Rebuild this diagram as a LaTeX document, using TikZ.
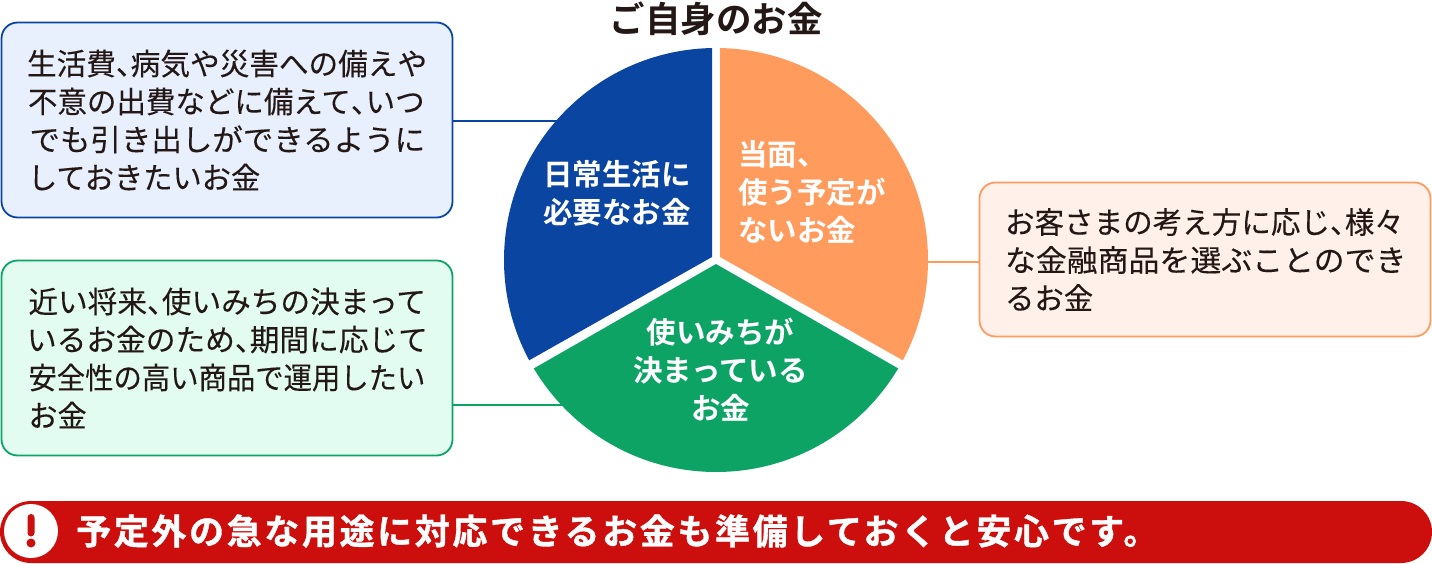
\documentclass[tikz,border=0pt]{standalone}
\usepackage{graphicx}
\usepackage{fontspec}
\setmainfont{Noto Sans CJK JP}
\newfontfamily\jpreg[FakeBold=0.12]{Noto Sans CJK JP}
\newfontfamily\jphalf[RawFeature={+halt},FakeBold=0.12]{Noto Sans CJK JP}
\newfontfamily\jpmed{Noto Sans CJK JP Bold}
\newfontfamily\jpbold[LetterSpace=7.5,FakeBold=1.0]{Noto Sans CJK JP Bold}
\newcommand{\halften}{{\jphalf 、}}
\newcommand{\hs}[2]{\scalebox{#1}[1]{#2}}
\definecolor{inkc}{HTML}{231815}
\definecolor{blueC}{HTML}{0B45A2}
\definecolor{blueL}{HTML}{E8F0FE}
\definecolor{greenC}{HTML}{0CA365}
\definecolor{greenL}{HTML}{E2FCF2}
\definecolor{orangeC}{HTML}{FF9B5C}
\definecolor{orangeL}{HTML}{FFF1E9}
\definecolor{redC}{HTML}{CC0F0D}
\tikzset{
  x=1pt,y=-1pt,
  infobox/.style={rounded corners=16pt,line width=1.8pt,minimum width=451pt,
    inner xsep=0pt,inner ysep=0pt,text=inkc,align=left,text width=400pt,
    font=\jpreg\fontsize{30}{38}\selectfont},
  link/.style={line width=1.8pt},
  pielabel/.style={text=white,align=center,inner sep=0pt,
    font=\jpmed\fontsize{29.5}{38}\selectfont},
}
\begin{document}
\begin{tikzpicture}
\useasboundingbox (0,0) rectangle (1432,564);
% info boxes
\node[infobox,draw=blueC,fill=blueL,minimum height=195pt] (bluebox) at (227,120)
  {\hs{.988}{生活費\halften 病気や災害への備えや}\\
   \hspace*{1pt}\hs{.983}{不意の出費などに備えて\halften いつ}\\
   \hspace*{2.5pt}\hs{1.016}{でも引き出しができるように}\\
   \hspace*{1pt}\hs{.975}{しておきたいお金}};
\node[infobox,draw=greenC,fill=greenL,minimum height=195pt] (greenbox) at (227,358)
  {\hspace*{1.5pt}\hs{.988}{近い将来\halften 使いみちの決まって}\\
   \hs{.99}{いるお金のため\halften 期間に応じて}\\
   \hspace*{1.5pt}\hs{.945}{安全性の高い商品で運用したい}\\
   \hspace*{1.5pt}\hs{.97}{お金}};
\node[infobox,draw=orangeC,fill=orangeL,minimum height=154pt] (orangebox) at (1205,259.5)
  {\hs{.985}{お客さまの考え方に応じ\halften 様々}\\
   \hs{1.03}{な金融商品を選ぶことのでき}\\
   \hs{.98}{るお金}};
% connectors
\coordinate (blueend) at (570,121);
\coordinate (greenend) at (570,405);
\coordinate (orangeend) at (900,262);
\draw[link,draw=blueC] (bluebox.east |- blueend) -- (blueend);
\draw[link,draw=greenC] (greenbox.east |- greenend) -- (greenend);
\draw[link,draw=orangeC] (orangebox.west |- orangeend) -- (orangeend);
% pie
\begin{scope}
  \clip (716,260) circle[radius=212];
  \fill[blueC] (712,0) -- (712,257) -- (412,426.5) -- (300,426.5) -- (300,0) -- cycle;
  \fill[orangeC] (720,0) -- (720,257) -- (1020,426.5) -- (1132,426.5) -- (1132,0) -- cycle;
  \fill[greenC] (716,264) -- (416,436) -- (416,500) -- (1016,500) -- (1016,436) -- cycle;
\end{scope}
\node[text=inkc,inner sep=0pt,font=\jpmed\fontsize{35.5}{38}\selectfont] (title) at (716,19) {ご自身のお金};
\node[pielabel] (bluelabel) at (617,193) {日常生活に\\必要なお金};
\node[pielabel,align=left,anchor=west] (orangelabel) at (738,192) {当面、\\使う予定が\\ないお金};
\node[pielabel] (greenlabel) at (720.5,370) {使いみちが\\決まっている\\お金};
% banner
\fill[redC,rounded corners=31pt] (0,501) rectangle (1432,563);
\fill[white] (31,531) circle[radius=27];
\fill[redC,rounded corners=3.5pt] (27.5,514) rectangle (34.5,536.5);
\fill[redC] (31,543) circle[radius=4.5];
\node[anchor=west,text=white,inner sep=0pt,font=\jpbold\fontsize{35}{38}\selectfont] (banner) at (76,531)
  {予定外の急な用途に対応できるお金も準備しておくと安心です。};
\end{tikzpicture}
\end{document}
